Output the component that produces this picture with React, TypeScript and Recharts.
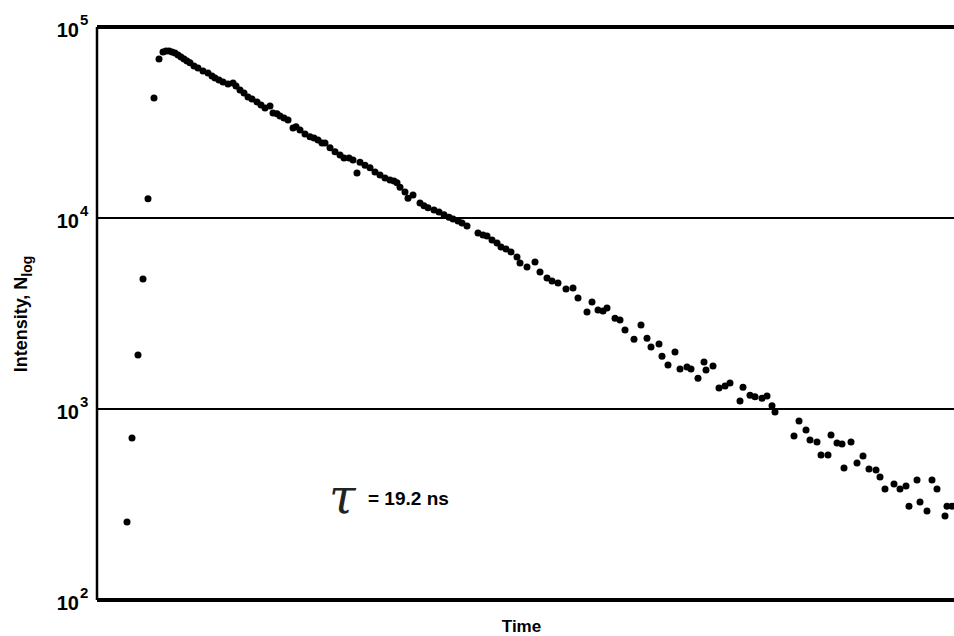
import React from "react"
import { ScatterChart, Scatter, XAxis, YAxis, ReferenceLine } from "recharts"

// time channel of each photon-count sample
const channels = [
  30, 35, 41, 46, 51, 57, 62, 66, 69, 72, 75, 78, 81, 84, 87, 90, 93, 97, 101, 106,
  111, 115, 118, 122, 126, 131, 136, 139, 143, 147, 151, 155, 160, 164, 168, 173, 176, 180, 183, 187,
  191, 196, 199, 203, 208, 213, 217, 221, 225, 228, 233, 238, 243, 247, 252, 256, 260, 263, 268, 273,
  278, 283, 288, 293, 297, 300, 303, 308, 311, 316, 323, 327, 331, 337, 342, 347, 352, 356, 361, 365,
  370, 381, 386, 390, 395, 400, 404, 409, 414, 420, 423, 430, 438, 443, 450, 455, 461, 469, 476, 481,
  490, 495, 501, 506, 510, 518, 523, 528, 537, 544, 550, 554, 562, 565, 571, 578, 583, 590, 594, 601,
  607, 609, 616, 622, 628, 633, 643, 646, 653, 658, 665, 670, 675, 678, 697, 702, 709, 713, 720, 724,
  731, 734, 740, 745, 747, 754, 760, 766, 772, 779, 783, 788, 797, 803, 809, 812, 820, 823, 830, 835,
  840, 848, 850, 855,
]

// counts
const counts = [
  256, 705, 1920, 4800, 12600, 42500, 68000, 74000, 74800, 74800, 74000, 73100, 71300, 69700, 68000, 66400, 64900, 62500, 61000, 58900,
  57400, 55400, 54100, 52800, 51600, 50300, 50900, 49100, 46800, 45100, 43000, 42000, 40500, 39100, 37700, 38600, 35500, 35100, 34200, 33400,
  32600, 29600, 30000, 28900, 27500, 26600, 26200, 25600, 24700, 24700, 23300, 22200, 21400, 20600, 20600, 20100, 17200, 19600, 18900, 18300,
  17400, 16800, 16200, 15800, 15600, 15300, 14500, 13700, 12700, 13200, 12000, 11600, 11300, 11000, 10750, 10400, 10100, 9880, 9640, 9410,
  9080, 8340, 8140, 8050, 7670, 7400, 7050, 6880, 6640, 6250, 5810, 5540, 5890, 5220, 4850, 4680, 4570, 4250, 4300, 3810,
  3220, 3630, 3300, 3260, 3380, 2990, 2920, 2590, 2320, 2750, 2350, 2110, 2190, 1890, 1700, 1990, 1620, 1660, 1620, 1450,
  1760, 1600, 1680, 1290, 1320, 1370, 1100, 1300, 1180, 1160, 1140, 1170, 1040, 964, 722, 865, 776, 688, 672, 574,
  574, 731, 664, 656, 491, 672, 521, 567, 485, 480, 441, 381, 405, 381, 395, 310, 425, 326, 292, 425,
  381, 275, 310, 310,
]

const decadeTicks = [100, 1000, 10000, 100000]
const decadeExponents = ["2", "3", "4", "5"]
const gridDecades = [1000, 10000]

const rows = channels.map((t, i) => ({ t, counts: counts[i] }))

const font = "'Liberation Sans', Arial, sans-serif"

function DecadeTick(props: any) {
  const { x, y, payload } = props
  const exp = decadeExponents[decadeTicks.indexOf(payload.value)]
  return (
    <g fontFamily={font} fontWeight="bold" fill="#000">
      <text x={x - 18} y={y + 10} fontSize={20} textAnchor="end">10</text>
      <text x={x - 17} y={y - 2} fontSize={15} textAnchor="start">{exp}</text>
    </g>
  )
}

function Dot(props: any) {
  const { cx, cy } = props
  return <circle cx={cx} cy={cy} r={3.5} fill="#000" />
}

function YTitle() {
  return (
    <text
      transform="translate(27,314) rotate(-90)"
      textAnchor="middle"
      fontFamily={font}
      fontWeight="bold"
      fontSize={18}
      fill="#000"
    >
      Intensity, N
      <tspan fontSize={14} dy={5}>log</tspan>
    </text>
  )
}

export default function App() {
  return (
    <div style={{ position: "fixed", left: 0, top: 0, width: 954, height: 636, background: "#fff" }}>
      <ScatterChart width={954} height={636} margin={{ top: 27, right: 0, bottom: 0, left: 0 }}>
        <XAxis
          dataKey="t"
          type="number"
          domain={[0, 857]}
          height={36}
          tick={false}
          tickLine={false}
          axisLine={false}
          label={{ value: "Time", position: "insideBottom", offset: 4, fill: "#000", fontFamily: font, fontWeight: "bold", fontSize: 17, dx: -4 }}
        />
        <YAxis
          dataKey="counts"
          type="number"
          scale="log"
          domain={[100, 100000]}
          ticks={decadeTicks}
          width={97}
          tickLine={false}
          tickSize={0}
          tickMargin={0}
          tick={<DecadeTick />}
          axisLine={{ stroke: "#000", strokeWidth: 2.5 }}
          allowDataOverflow
        />
        {gridDecades.map((v) => (
          <ReferenceLine key={v} y={v} stroke="#000" strokeWidth={2} />
        ))}
        <ReferenceLine y={100000} stroke="#000" strokeWidth={4} />
        <ReferenceLine y={100} stroke="#000" strokeWidth={4} />
        <Scatter data={rows} dataKey="counts" shape={<Dot />} isAnimationActive={false} />
        <YTitle />
      </ScatterChart>
      <div
        style={{
          position: "absolute",
          left: 329,
          top: 472,
          fontFamily: "'DejaVu Serif', serif",
          fontStyle: "italic",
          fontSize: 48,
          color: "#222",
          lineHeight: "48px",
        }}
      >
        τ
      </div>
      <div
        style={{
          position: "absolute",
          left: 368,
          top: 488,
          fontFamily: font,
          fontWeight: "bold",
          fontSize: 19,
          color: "#000",
          lineHeight: "22px",
        }}
      >
        = 19.2 ns
      </div>
    </div>
  )
}
